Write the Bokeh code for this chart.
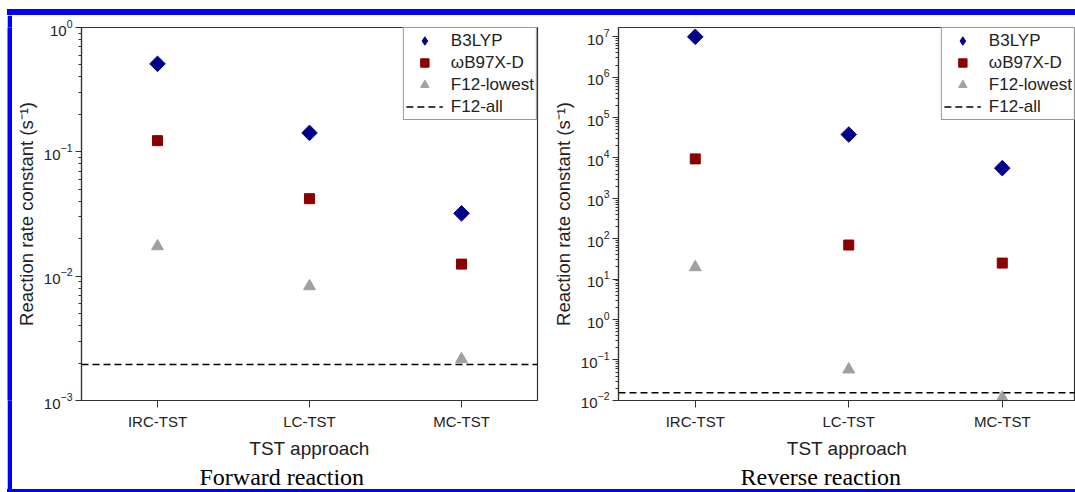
import numpy as np
from bokeh.plotting import figure
from bokeh.layouts import row, column
from bokeh.models import (Range1d, FixedTicker, LogTicker, Legend,
                          LegendItem, Title, Div, Spacer)
from bokeh.embed import file_html
from bokeh.resources import INLINE

# ---------------- data ----------------
categories = ["IRC-TST", "LC-TST", "MC-TST"]
series_names = ["B3LYP", "\u03c9B97X-D", "F12-lowest", "F12-all"]

fwd_b3lyp = [0.51, 0.142, 0.032]
fwd_wb97xd = [0.123, 0.042, 0.0125]
fwd_f12_lowest = [0.0174, 0.0083, 0.00215]
fwd_f12_all = 0.00195

rev_b3lyp = [1.0e7, 3.8e4, 5.6e3]
rev_wb97xd = [9.5e3, 70.0, 25.0]
rev_f12_lowest = [19.7, 0.058, 0.0116]
rev_f12_all = 0.0153

fwd_x_range = (0.5, 3.5)
rev_x_range = (0.5, 3.477)
fwd_y_range = (1e-3, 1.0)
rev_y_range = (0.0099, 1.7e7)

captions = ["Forward reaction", "Reverse reaction"]
y_title = "Reaction rate constant (s\u207b\u00b9)"
x_title = "TST approach"

# ---------------- style ----------------
BLUE = "#0000ff"
C_B3 = "#00008b"
C_WB = "#8b0000"
C_F12 = "#a0a0a0"
AX = "#333333"
TXT = "#222222"
SANS = "Liberation Sans"
SERIF = "Liberation Serif"
H = 474


def make_panel(width, mb_left, mb_right, x_rng, y_rng, b3, wb, f12, f12all,
               caption, caption_offset):
    x = list(range(1, len(categories) + 1))
    p = figure(width=width, height=H, y_axis_type="log",
               x_range=Range1d(*x_rng), y_range=Range1d(*y_rng),
               output_backend="svg", toolbar_location=None,
               min_border_left=mb_left, min_border_right=mb_right,
               min_border_top=12, min_border_bottom=89)
    p.grid.visible = False
    p.background_fill_color = "white"
    p.border_fill_color = "white"
    p.outline_line_color = AX
    p.outline_line_width = 1.2

    # legend proxies (hidden beneath the real markers)
    q1 = p.scatter(x, b3, marker="diamond", size=1, fill_color=C_B3,
                   line_color=C_B3)
    q2 = p.scatter(x, wb, marker="square", size=1, fill_color=C_WB,
                   line_color=C_WB)
    q3 = p.scatter(x, f12, marker="triangle", size=1, fill_color=C_F12,
                   line_color=C_F12)

    p.scatter(x, b3, marker="square", angle=np.pi / 4, size=11,
              fill_color=C_B3, line_color=C_B3)
    p.scatter(x, wb, marker="square", size=10,
              fill_color=C_WB, line_color=C_WB)
    p.scatter(x, f12, marker="triangle", size=12,
              fill_color=C_F12, line_color=C_F12)
    r4 = p.line(list(x_rng), [f12all, f12all], line_color="black",
                line_dash="7 4", line_width=1.5)

    legend = Legend(items=[LegendItem(label=series_names[0], renderers=[q1]),
                           LegendItem(label=series_names[1], renderers=[q2]),
                           LegendItem(label=series_names[2], renderers=[q3]),
                           LegendItem(label=series_names[3], renderers=[r4])],
                    location="top_right", margin=0, padding=2, spacing=1,
                    glyph_width=37, glyph_height=21, label_height=21,
                    label_standoff=8, label_text_font=SANS,
                    label_text_font_size="17px", label_text_color=TXT,
                    border_line_color=AX, border_line_width=1,
                    background_fill_color="white", background_fill_alpha=1)
    p.add_layout(legend)

    xa = p.xaxis[0]
    xa.ticker = FixedTicker(ticks=x, minor_ticks=[])
    xa.major_label_overrides = {i: c for i, c in zip(x, categories)}
    xa.major_label_text_font = SANS
    xa.major_label_text_font_size = "15px"
    xa.major_label_text_color = TXT
    xa.major_label_standoff = 5
    xa.major_tick_out = 7
    xa.major_tick_in = 0
    xa.major_tick_line_color = AX
    xa.axis_line_color = AX
    xa.axis_line_width = 1.2
    xa.axis_label = x_title
    xa.axis_label_text_font = SANS
    xa.axis_label_text_font_size = "19px"
    xa.axis_label_text_font_style = "normal"
    xa.axis_label_text_color = TXT
    xa.axis_label_standoff = 5

    ya = p.yaxis[0]
    ya.ticker = LogTicker(desired_num_ticks=12, num_minor_ticks=10)
    ya.major_label_text_font = SANS
    ya.major_label_text_font_size = "15px"
    ya.major_label_text_color = TXT
    ya.major_label_standoff = 3
    ya.major_tick_out = 6
    ya.major_tick_in = 0
    ya.minor_tick_out = 3
    ya.minor_tick_in = 0
    ya.major_tick_line_color = AX
    ya.minor_tick_line_color = AX
    ya.axis_line_color = AX
    ya.axis_line_width = 1.2
    ya.axis_label = y_title
    ya.axis_label_text_font = SANS
    ya.axis_label_text_font_size = "18.5px"
    ya.axis_label_text_font_style = "normal"
    ya.axis_label_text_color = TXT
    ya.axis_label_standoff = 4

    p.add_layout(Title(text=caption, align="left", offset=caption_offset,
                       standoff=0, text_font=SERIF, text_font_size="24px",
                       text_font_style="normal", text_color="black"),
                 "below")
    return p


def vbar(w, h):
    b = figure(width=w, height=h, output_backend="svg", toolbar_location=None,
               min_border=0, x_axis_location=None, y_axis_location=None,
               outline_line_color=None, background_fill_color=BLUE,
               border_fill_color=BLUE)
    b.grid.visible = False
    return b


def hbar(w, h):
    return Div(text="", width=w, height=h, margin=0,
               styles={"background-color": BLUE})


p1 = make_panel(528, 67, 3, fwd_x_range, fwd_y_range, fwd_b3lyp, fwd_wb97xd,
                fwd_f12_lowest, fwd_f12_all, captions[0], 118)
p2 = make_panel(535, 78, 0, rev_x_range, rev_y_range, rev_b3lyp, rev_wb97xd,
                rev_f12_lowest, rev_f12_all, captions[1], 122)

inner = column(hbar(1068, 6), row(vbar(5, H), p1, p2), hbar(1068, 3))
layout = column(Spacer(width=1075, height=9),
                row(Spacer(width=7, height=483), inner))

open("out.html", "w").write(file_html(layout, INLINE))
